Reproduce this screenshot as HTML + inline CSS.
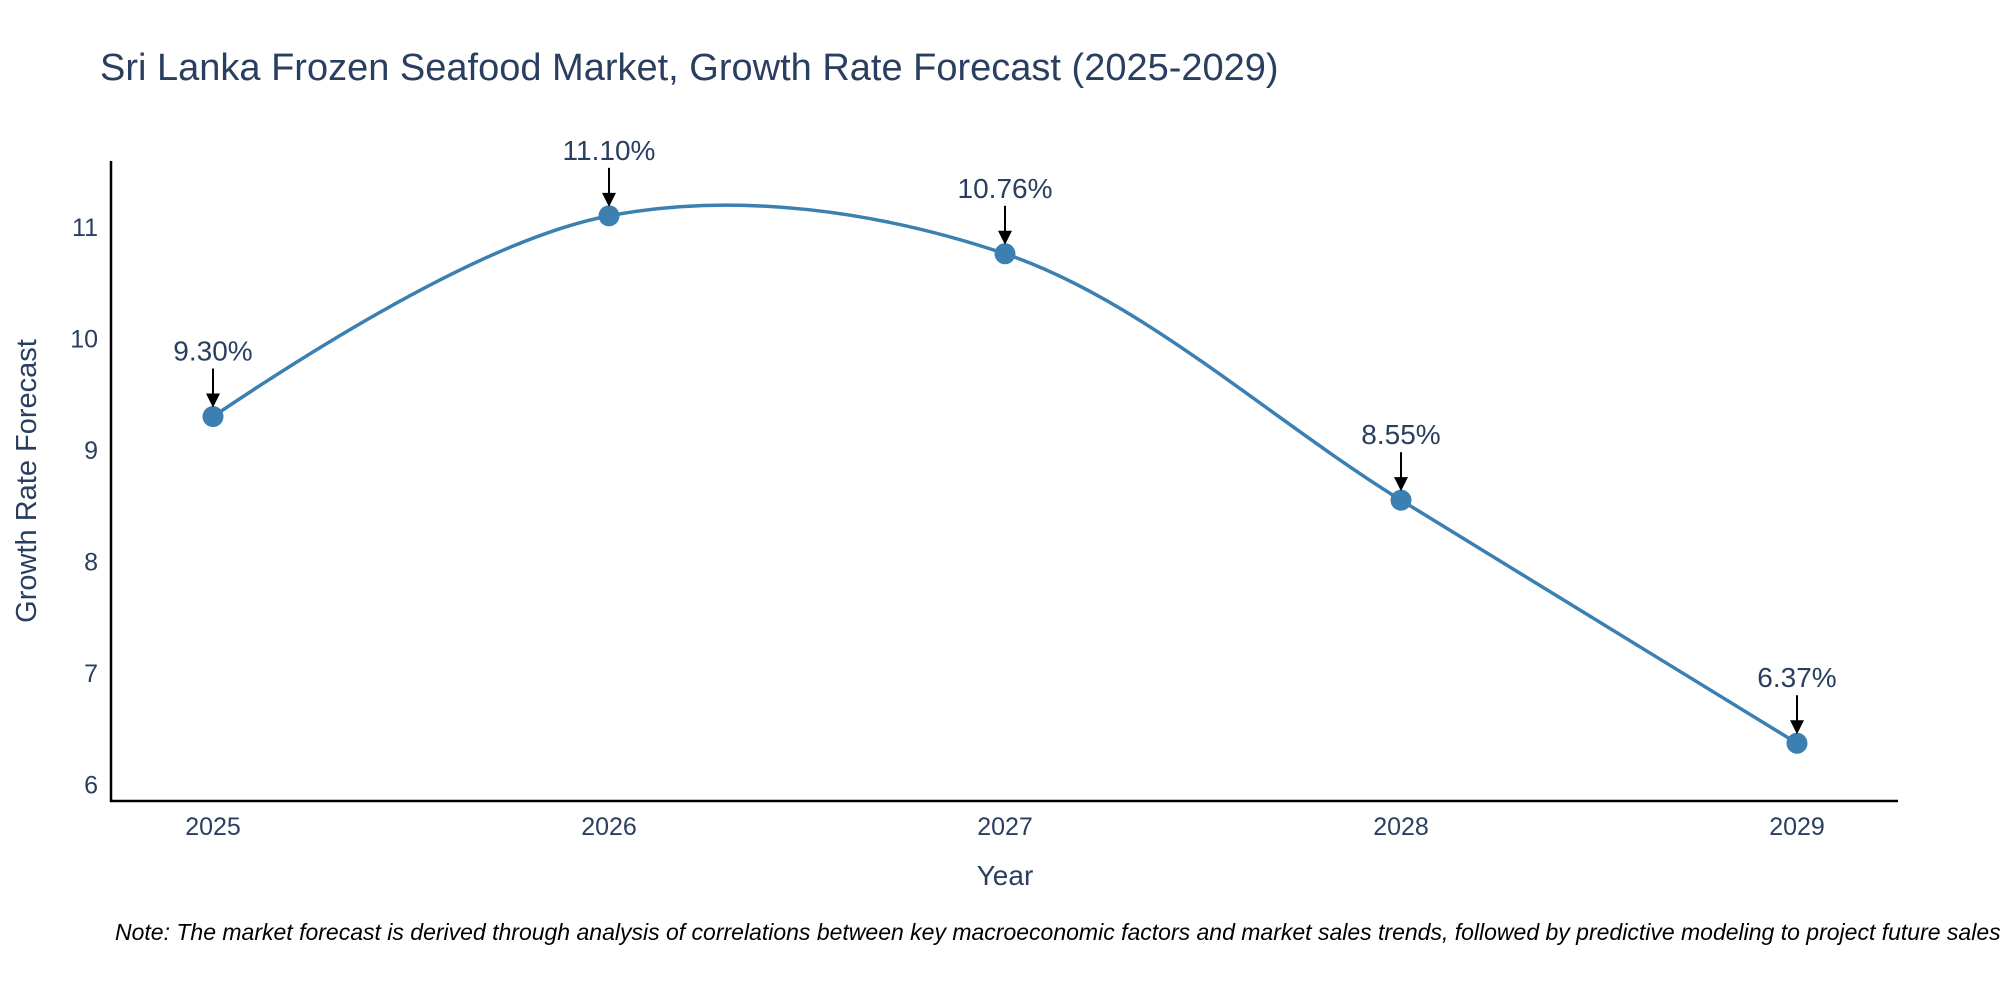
<!DOCTYPE html>
<html><head><meta charset="utf-8"><style>
html,body{margin:0;padding:0;background:#fff;overflow:hidden;}
svg text{font-family:"Liberation Sans",sans-serif;fill:#2a3f5f;}
</style></head><body>
<svg id="chart" width="2000" height="1000" viewBox="0 0 2000 1000" xmlns="http://www.w3.org/2000/svg">
<text x="100" y="80" font-size="38">Sri Lanka Frozen Seafood Market, Growth Rate Forecast (2025-2029)</text>
<g id="plot"></g>
<line x1="111" y1="161" x2="111" y2="802" stroke="#000" stroke-width="2.5"/>
<line x1="110" y1="801" x2="1898" y2="801" stroke="#000" stroke-width="2.5"/>
<text x="1005" y="885" font-size="28" text-anchor="middle">Year</text>
<text transform="translate(36,481) rotate(-90)" font-size="29" text-anchor="middle">Growth Rate Forecast</text>
<text x="115" y="940" font-size="23" font-style="italic" style="fill:#000">Note: The market forecast is derived through analysis of correlations between key macroeconomic factors and market sales trends, followed by predictive modeling to project future sales.</text>
</svg>
<script>
const years = [2025, 2026, 2027, 2028, 2029];
const growthValues = [9.30, 11.10, 10.76, 8.55, 6.37];
const valueLabels = ["9.30%", "11.10%", "10.76%", "8.55%", "6.37%"];
const yTicks = [6, 7, 8, 9, 10, 11];

const NS = "http://www.w3.org/2000/svg";
const svg = document.getElementById('chart');
const plot = document.getElementById('plot');
function xScale(v){ return 213 + (v - 2025) * (1797 - 213) / 4; }
function yScale(v){ return 784.5 - (v - 6) * (784.5 - 227) / 5; }
function mk(tag, attrs, parent){ const e=document.createElementNS(NS,tag); for(const k in attrs) e.setAttribute(k,attrs[k]); (parent||plot).appendChild(e); return e; }

yTicks.forEach(t=>{
  const e = mk('text',{x:98,y:yScale(t)+9,'font-size':25,'text-anchor':'end'}, svg);
  
  
  e.textContent = t;
});
years.forEach(y=>{
  const e = mk('text',{x:xScale(y),y:835,'font-size':25,'text-anchor':'middle'}, svg);
  
  
  e.textContent = y;
});

const pts = years.map((y,i)=>[xScale(y), yScale(growthValues[i])]);
function tangent(p,t,n,s){
  const d1x=p[0]-t[0], d1y=p[1]-t[1], d2x=n[0]-t[0], d2y=n[1]-t[1];
  const d1a=Math.pow(d1x*d1x+d1y*d1y,0.25), d2a=Math.pow(d2x*d2x+d2y*d2y,0.25);
  const numx=(d2a*d2a*d1x-d1a*d1a*d2x)*s, numy=(d2a*d2a*d1y-d1a*d1a*d2y)*s;
  const den1=3*d2a*(d1a+d2a), den2=3*d1a*(d1a+d2a);
  return [[t[0]+numx/den1, t[1]+numy/den1],[t[0]-numx/den2, t[1]-numy/den2]];
}
const tg=[];
for(let i=1;i<pts.length-1;i++) tg.push(tangent(pts[i-1],pts[i],pts[i+1],1));
let d='M'+pts[0]+'Q'+tg[0][0]+' '+pts[1];
for(let i=2;i<pts.length-1;i++) d+='C'+tg[i-2][1]+' '+tg[i-1][0]+' '+pts[i];
d+='Q'+tg[tg.length-1][1]+' '+pts[pts.length-1];
const line = mk('path',{d:d,fill:'none',stroke:'#3c80b2','stroke-width':3.5});



pts.forEach((p,i)=>{
  const c = mk('circle',{cx:p[0],cy:p[1],r:10.5,fill:'#3c80b2'});
  
  
  const a = mk('line',{x1:p[0],y1:p[1]-48,x2:p[0],y2:p[1]-22,stroke:'#000','stroke-width':2});
  
  
  const h = mk('polygon',{points:`${p[0]-7},${p[1]-23} ${p[0]+7},${p[1]-23} ${p[0]},${p[1]-9}`,fill:'#000'});
  
  
  const t = mk('text',{x:p[0],y:p[1]-56,'font-size':28,'text-anchor':'middle'});
  
  
  t.textContent = valueLabels[i];
});
</script>
</body></html>
